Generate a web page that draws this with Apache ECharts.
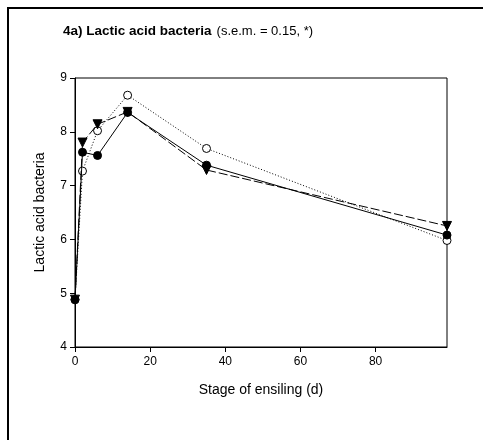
<!DOCTYPE html>
<html><head><meta charset="utf-8">
<script src="https://cdn.jsdelivr.net/npm/echarts@6/dist/echarts.min.js"></script>
<style>html,body{margin:0;padding:0;background:#fff}#c{width:483px;height:440px}</style>
</head><body><div id="c"></div>
<script>
const days = [0, 2, 6, 14, 35, 99];
const filledCircle = [4.88, 7.62, 7.56, 8.36, 7.38, 6.08];
const triangleDown = [4.88, 7.80, 8.14, 8.37, 7.29, 6.25];
const openCircle = [4.88, 7.27, 8.02, 8.68, 7.69, 5.98];
const xTicks = [0, 20, 40, 60, 80];
const yTicks = [4, 5, 6, 7, 8, 9];

const pair = arr => days.map((d, i) => [d, arr[i]]);
const F = 'Liberation Sans, Arial, sans-serif';
const chart = echarts.init(document.getElementById('c'));
chart.setOption({
  animation: false,
  backgroundColor: '#fff',
  title: {
    text: '{b|4a) Lactic acid bacteria} {n|(s.e.m. = 0.15, *)}',
    left: 58, top: 17,
    textStyle: { fontWeight: 'normal', rich: {
      b: { fontFamily: F, fontWeight: 'bold', fontSize: 13.5, color: '#000' },
      n: { fontFamily: F, fontWeight: 'normal', fontSize: 13, color: '#000' }
    }}
  },
  graphic: [{ type: 'rect', shape: { x: 8, y: 8, width: 700, height: 700 },
    style: { fill: 'none', stroke: '#000', lineWidth: 2 }, silent: true }],
  grid: { left: 75, top: 78, width: 372, height: 269, show: true, borderColor: '#000', borderWidth: 1 },
  xAxis: {
    type: 'value', min: 0, max: 99,
    name: 'Stage of ensiling (d)', nameLocation: 'middle', nameGap: 36,
    nameTextStyle: { fontFamily: F, fontSize: 14, color: '#000' },
    axisLine: { show: true, lineStyle: { color: '#000', width: 1 } },
    axisTick: { show: true, length: 5, customValues: xTicks, lineStyle: { color: '#000' } },
    axisLabel: { fontFamily: F, fontSize: 12, color: '#000', margin: 9, customValues: xTicks },
    splitLine: { show: false }
  },
  yAxis: {
    type: 'value', min: 4, max: 9, interval: 1,
    name: 'Lactic acid bacteria', nameLocation: 'middle', nameGap: 28,
    nameTextStyle: { fontFamily: F, fontSize: 14, color: '#000' },
    axisLine: { show: true, lineStyle: { color: '#000', width: 1 } },
    axisTick: { show: true, length: 5, customValues: yTicks, lineStyle: { color: '#000' } },
    axisLabel: { fontFamily: F, fontSize: 12, color: '#000', margin: 8, customValues: yTicks },
    splitLine: { show: false }
  },
  series: [
    { type: 'line', data: pair(openCircle), symbol: 'circle', symbolSize: 8,
      lineStyle: { color: '#000', width: 1, type: [1, 2] },
      itemStyle: { color: '#fff', borderColor: '#000', borderWidth: 1 }, z: 2 },
    { type: 'line', data: pair(triangleDown), symbol: 'triangle', symbolRotate: 180, symbolSize: 9,
      lineStyle: { color: '#000', width: 1, type: [9, 3] },
      itemStyle: { color: '#000', borderColor: '#000' }, z: 3 },
    { type: 'line', data: pair(filledCircle), symbol: 'circle', symbolSize: 8,
      lineStyle: { color: '#000', width: 1, type: 'solid' },
      itemStyle: { color: '#000', borderColor: '#000' }, z: 4 }
  ]
});
</script></body></html>
